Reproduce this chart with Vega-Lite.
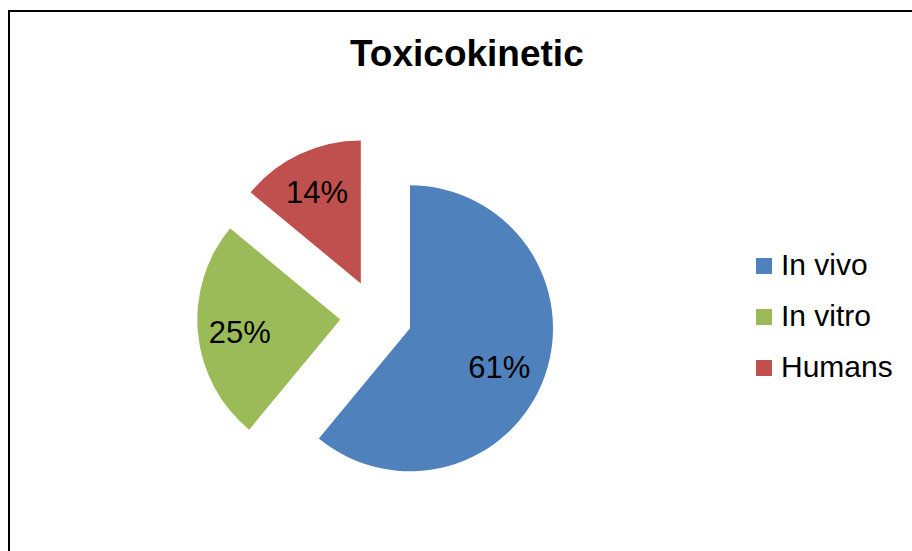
{
  "$schema": "https://vega.github.io/schema/vega-lite/v6.json",
  "autosize": "none",
  "width": 903,
  "height": 540,
  "padding": {"left": 9, "top": 11, "right": 0, "bottom": 0},
  "background": "white",
  "view": {"stroke": "#000000", "strokeWidth": 2, "strokeDash": [903, 1443, 540], "fill": "white"},
  "config": {
    "font": "Liberation Sans"
  },
  "title": {
    "text": "Toxicokinetic",
    "font": "Liberation Sans",
    "fontSize": 37,
    "fontWeight": "bold",
    "color": "#000000",
    "anchor": "start",
    "orient": "top",
    "frame": "group",
    "baseline": "alphabetic",
    "offset": -56,
    "dx": 341,
    "dy": 36
  },
  "data": {
    "values": [
      {"category": "In vivo", "value": 61, "label": "61%", "order": 1},
      {"category": "In vitro", "value": 25, "label": "25%", "order": 2},
      {"category": "Humans", "value": 14, "label": "14%", "order": 3}
    ]
  },
  "transform": [
    {"stack": "value", "groupby": [], "as": ["v0", "v1"], "sort": [{"field": "order", "order": "ascending"}]},
    {"calculate": "(datum.v0 + datum.v1) / 2", "as": "vmid"}
  ],
  "encoding": {
    "color": {
      "field": "category",
      "type": "nominal",
      "scale": {"domain": ["In vivo", "In vitro", "Humans"], "range": ["#4F81BD", "#9BBB59", "#C0504D"]},
      "legend": {
        "title": null,
        "orient": "none",
        "legendX": 740,
        "legendY": 240,
        "symbolType": "square",
        "symbolSize": 256,
        "symbolStrokeWidth": 0,
        "labelFont": "Liberation Sans",
        "labelFontSize": 30,
        "labelColor": "#000000",
        "labelOffset": 2,
        "rowPadding": 21,
        "labelLimit": 300
      }
    }
  },
  "layer": [
    {
      "transform": [{"filter": "datum.category === 'In vivo'"}],
      "mark": {"type": "arc", "radius": 143, "x": 367.1, "y": 305.1, "xOffset": 33.9, "yOffset": 12.2, "strokeWidth": 0},
      "encoding": {
        "theta": {"field": "v0", "type": "quantitative", "scale": {"domain": [0, 100]}},
        "theta2": {"field": "v1"}
      }
    },
    {
      "transform": [{"filter": "datum.category === 'In vitro'"}],
      "mark": {"type": "arc", "radius": 143, "x": 367.1, "y": 305.1, "xOffset": -35.8, "yOffset": 3.4, "strokeWidth": 0},
      "encoding": {
        "theta": {"field": "v0", "type": "quantitative", "scale": {"domain": [0, 100]}},
        "theta2": {"field": "v1"}
      }
    },
    {
      "transform": [{"filter": "datum.category === 'Humans'"}],
      "mark": {"type": "arc", "radius": 143, "x": 367.1, "y": 305.1, "xOffset": -15.3, "yOffset": -32.6, "strokeWidth": 0},
      "encoding": {
        "theta": {"field": "v0", "type": "quantitative", "scale": {"domain": [0, 100]}},
        "theta2": {"field": "v1"}
      }
    },
    {
      "transform": [{"filter": "datum.category === 'In vivo'"}],
      "mark": {"type": "text", "radius": 97, "x": 367.1, "y": 305.1, "xOffset": 33.9, "yOffset": 12.2, "dx": -2, "dy": 8, "font": "Liberation Sans", "fontSize": 31, "align": "center", "baseline": "middle"},
      "encoding": {
        "theta": {"field": "vmid", "type": "quantitative", "scale": {"domain": [0, 100]}},
        "text": {"field": "label"},
        "color": {"value": "#000000"}
      }
    },
    {
      "transform": [{"filter": "datum.category === 'In vitro'"}],
      "mark": {"type": "text", "radius": 98, "x": 367.1, "y": 305.1, "xOffset": -35.8, "yOffset": 3.4, "dx": -3, "dy": 5, "font": "Liberation Sans", "fontSize": 31, "align": "center", "baseline": "middle"},
      "encoding": {
        "theta": {"field": "vmid", "type": "quantitative", "scale": {"domain": [0, 100]}},
        "text": {"field": "label"},
        "color": {"value": "#000000"}
      }
    },
    {
      "transform": [{"filter": "datum.category === 'Humans'"}],
      "mark": {"type": "text", "radius": 98, "x": 367.1, "y": 305.1, "xOffset": -15.3, "yOffset": -32.6, "dx": -2, "dy": -1, "font": "Liberation Sans", "fontSize": 31, "align": "center", "baseline": "middle"},
      "encoding": {
        "theta": {"field": "vmid", "type": "quantitative", "scale": {"domain": [0, 100]}},
        "text": {"field": "label"},
        "color": {"value": "#000000"}
      }
    }
  ]
}
